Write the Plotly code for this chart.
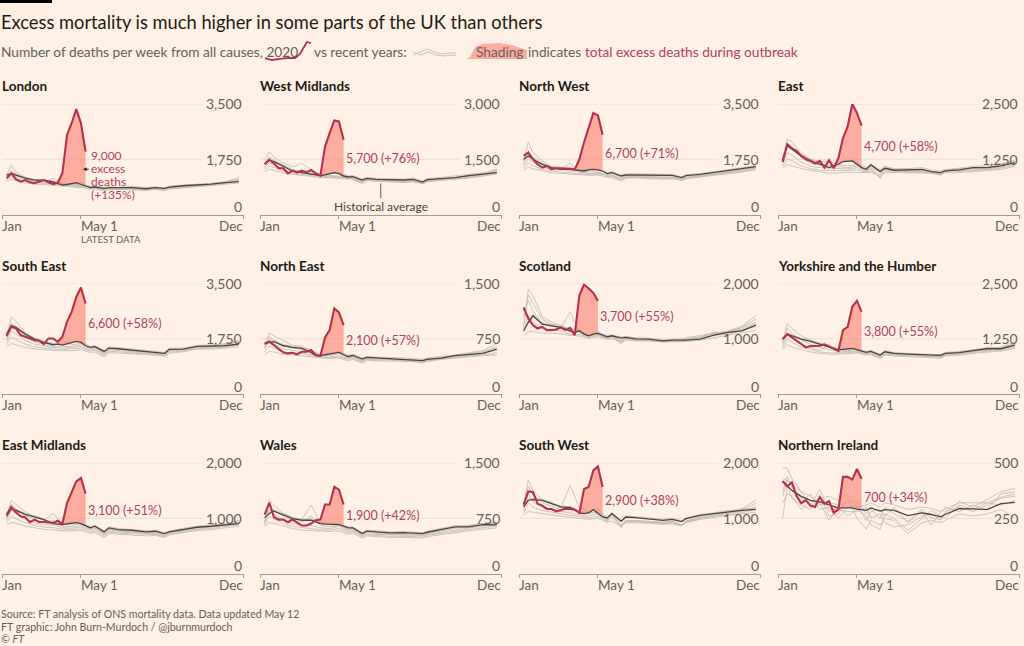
import plotly.graph_objects as go

FONT = "Lato"
BG = "#fff1e5"
RED = "#b9304c"
REDTXT = "#b4405c"
GREY_TXT = "#66605c"

WEEKS_2020 = list(range(1, 19))
AVG_WEEKS = [1,2,3,5,7,9,11,12,13,14,15,16,17,18,19,20,22,23,25,28,31,33,35,36,39,42,45,48,51]
GREY_WEEKS = [1,2,3,5,7,9,11,13,15,17,19,20,22,23,25,28,31,33,35,36,39,42,45,48,51]
X_TICK_WEEKS = [0, 17, 52]
X_TICK_TEXT = ["Jan", "May 1", "Dec"]

LONDON_2020 = [1145,1304,1120,1040,1090,1020,990,1050,1090,1020,965,1007,1304,2520,2890,3340,2890,1990]
LONDON_AVG = [1250,1300,1250,1150,1090,1090,1030,975,930,950,975,1007,950,900,850,870,830,850,850,850,815,850,830,870,910,930,965,1007,1040]
LONDON_G1 = [1250,1570,1350,1180,1100,1050,1000,960,950,900,880,870,800,810,840,830,800,820,800,840,880,910,960,1020,1180]
LONDON_G2 = [1050,1120,1080,1000,960,950,930,900,880,840,820,800,760,790,790,800,770,790,770,810,840,880,900,950,1000]
LONDON_G3 = [1150,1300,1200,1080,1020,1020,1140,1000,910,980,860,840,790,830,820,860,790,830,790,860,890,900,940,990,1090]
LONDON_G4 = [1180,1400,1280,1120,1050,980,980,940,960,920,900,820,770,840,800,810,780,800,760,830,860,920,930,980,1120]
LONDON_G5 = [1100,1200,1130,1050,1000,1000,960,930,900,880,800,850,780,800,810,790,760,810,780,830,850,890,920,1000,1060]
LONDON_G6 = [1200,1350,1270,1170,1110,1090,1060,960,960,1010,880,900,860,880,860,890,850,880,840,900,930,950,990,1040,1120]

WMID_2020 = [1373,1482,1391,1255,1255,1118,1191,1136,1191,1145,1209,1118,1055,1845,2209,2555,2527,2027]
WMID_AVG = [1364,1482,1436,1318,1182,1136,1091,1064,1055,1073,1109,1136,1109,1045,1018,1027,936,982,955,945,936,955,882,945,973,1000,1055,1091,1136]
WMID_G1 = [1450,1710,1560,1400,1290,1390,1220,1080,1060,1020,980,1000,890,950,930,920,900,930,860,930,960,1000,1060,1120,1240]
WMID_G2 = [1150,1240,1200,1130,1090,1060,1040,1010,1000,980,950,960,860,920,900,900,880,910,840,900,930,950,990,1040,1100]
WMID_G3 = [1300,1400,1350,1230,1150,1130,1100,1040,1040,1050,1000,980,920,960,940,930,910,920,870,920,950,990,1030,1080,1180]
WMID_G4 = [1250,1520,1450,1320,1200,1180,1160,1030,1020,1010,960,1000,880,930,920,890,870,890,830,900,960,960,1010,1060,1200]
WMID_G5 = [1200,1320,1280,1180,1110,1090,1060,1000,1010,1030,1020,950,840,940,910,910,890,900,850,890,920,970,1000,1070,1130]
WMID_G6 = [1380,1560,1480,1340,1220,1170,1130,1080,1130,1120,1050,1060,960,1010,980,970,960,990,910,970,1010,1040,1090,1130,1190]

NW_2020 = [1855,1961,1749,1590,1484,1537,1431,1463,1463,1463,1442,1431,1749,2279,2756,3212,3138,2523]
NW_AVG = [1749,1855,1749,1590,1484,1431,1431,1410,1378,1378,1410,1431,1410,1378,1293,1325,1219,1251,1251,1251,1240,1240,1166,1230,1272,1325,1378,1452,1516]
NW_G1 = [1700,2300,1950,1700,1520,1500,1490,1400,1350,1350,1250,1260,1130,1180,1200,1200,1170,1180,1120,1180,1240,1290,1340,1410,1500]
NW_G2 = [1400,1500,1450,1380,1320,1300,1280,1260,1240,1250,1200,1170,1060,1150,1160,1150,1150,1150,1070,1130,1190,1240,1300,1340,1420]
NW_G3 = [1550,1760,1650,1500,1430,1400,1640,1330,1300,1300,1260,1330,1170,1220,1200,1190,1200,1190,1140,1170,1210,1280,1350,1400,1470]
NW_G4 = [1600,2000,1820,1620,1480,1440,1380,1370,1290,1320,1230,1220,1090,1190,1170,1170,1130,1160,1090,1150,1220,1260,1320,1380,1480]
NW_G5 = [1480,1630,1550,1430,1370,1340,1330,1300,1270,1280,1180,1240,1120,1170,1180,1130,1140,1130,1100,1150,1200,1270,1310,1360,1440]
NW_G6 = [1780,1950,1800,1620,1520,1460,1470,1410,1430,1430,1320,1360,1250,1280,1290,1280,1270,1270,1190,1260,1300,1360,1410,1480,1560]

EAST_2020 = [1190,1592,1493,1440,1327,1251,1213,1152,1213,1061,1228,1046,1273,1728,1994,2500,2297,2009]
EAST_AVG = [1236,1554,1478,1327,1213,1137,1061,1099,1137,1198,1213,1213,1137,1061,1023,1122,970,1046,1001,1008,1023,970,948,985,1008,1061,1061,1099,1175]
EAST_G1 = [1300,1700,1650,1400,1250,1200,1200,1130,1100,1130,1010,1060,960,1100,990,1000,990,980,940,1000,1050,1040,1060,1130,1200]
EAST_G2 = [1050,1130,1100,1040,1000,960,930,940,960,950,940,950,870,940,950,950,940,930,900,960,950,970,1000,1020,1090]
EAST_G3 = [1130,1400,1350,1180,1090,1060,1050,1040,1030,1060,970,1040,820,1010,980,990,970,950,920,1010,990,1010,1030,1070,1140]
EAST_G4 = [1200,1580,1500,1290,1160,1120,1120,1080,1060,1100,1000,1020,900,1050,1020,960,960,960,910,980,1010,1040,1030,1100,1170]
EAST_G5 = [1090,1260,1220,1100,1040,1000,1000,990,1000,1010,960,990,850,970,960,970,950,940,890,950,970,990,1010,1050,1110]
EAST_G6 = [1260,1600,1520,1360,1240,1170,1100,1170,1240,1170,1060,1150,1010,1080,1040,1040,1060,1010,980,1020,1040,1090,1100,1140,1230]

SE_2020 = [1834,2129,2076,1866,1813,1760,1707,1686,1581,1760,1760,1655,1813,2287,2603,3078,3373,2867]
SE_AVG = [1897,2161,2108,1897,1739,1634,1560,1581,1549,1581,1634,1665,1634,1528,1476,1497,1349,1455,1433,1391,1349,1318,1286,1412,1423,1507,1507,1528,1581]
SE_G1 = [1800,2450,2300,1950,1750,1650,1560,1700,1560,1600,1470,1500,1300,1440,1450,1380,1340,1300,1270,1410,1430,1500,1520,1600,1700]
SE_G2 = [1500,1600,1560,1480,1430,1400,1380,1370,1370,1400,1320,1330,1180,1310,1300,1270,1250,1230,1200,1290,1340,1420,1420,1450,1500]
SE_G3 = [1650,2000,1900,1700,1580,1530,1470,1450,1480,1500,1400,1420,1260,1390,1380,1340,1300,1270,1230,1360,1390,1460,1480,1530,1600]
SE_G4 = [1720,2250,2100,1820,1650,1580,1500,1500,1510,1550,1440,1460,1280,1420,1410,1360,1320,1290,1250,1380,1410,1480,1500,1570,1650]
SE_G5 = [1580,1800,1730,1580,1500,1460,1420,1410,1430,1450,1360,1380,1220,1350,1340,1300,1280,1250,1210,1330,1360,1440,1450,1490,1550]
SE_G6 = [1930,2200,2150,1930,1780,1670,1600,1590,1660,1670,1510,1530,1380,1490,1470,1420,1390,1350,1320,1450,1460,1540,1550,1570,1640]

NE_2020 = [687,710,664,610,565,551,560,538,574,574,597,529,515,768,868,1162,1107,936]
NE_AVG = [678,701,710,655,633,619,565,520,520,529,542,556,565,533,506,524,475,497,488,484,470,461,452,470,488,520,533,551,610]
NE_G1 = [640,830,790,720,660,650,590,540,530,570,520,530,470,500,490,490,470,470,450,480,500,530,560,590,680]
NE_G2 = [540,580,570,540,530,520,500,490,480,490,450,470,420,460,450,450,440,440,420,440,470,490,500,520,530]
NE_G3 = [610,720,680,610,590,580,540,520,500,520,480,500,440,480,470,470,450,450,440,460,480,510,530,550,600]
NE_G4 = [620,780,730,660,620,610,560,530,520,550,500,510,450,490,480,480,460,460,445,470,490,520,540,570,640]
NE_G5 = [570,650,620,570,560,550,520,500,490,500,470,480,430,470,460,460,445,445,430,450,475,500,515,530,560]
NE_G6 = [690,730,730,670,650,630,580,530,560,580,520,540,490,510,500,500,490,480,470,490,510,540,550,570,640]

SCOT_2020 = [1565,1367,1246,1186,1216,1156,1156,1168,1204,1156,1198,1066,1788,1981,1908,1830,1686]
SCOT_AVG = [1144,1294,1415,1264,1234,1204,1144,1114,1144,1084,1054,1084,1096,1072,1035,1054,1011,1023,999,993,963,975,975,975,993,1066,1114,1144,1246]
SCOT_G1 = [1200,1900,1780,1400,1300,1240,1180,1150,1060,1130,1050,1060,960,1040,1000,980,960,970,960,1020,1060,1090,1140,1230,1420]
SCOT_G2 = [1050,1130,1130,1100,1100,1090,1060,1050,1010,1040,990,1000,960,980,960,960,940,950,950,950,970,1020,1060,1100,1150]
SCOT_G3 = [1400,1700,1500,1280,1250,1180,1490,1110,1040,1080,1000,1040,900,1010,980,970,950,960,950,990,1020,1120,1100,1200,1300]
SCOT_G4 = [1280,1800,1640,1350,1270,1210,1120,1130,1050,1100,1020,1050,930,1020,990,975,955,965,955,1000,1040,1100,1120,1210,1360]
SCOT_G5 = [1120,1420,1300,1180,1170,1140,1080,1080,1020,1060,1010,1010,940,1000,970,965,945,955,945,970,1000,1070,1080,1150,1220]
SCOT_G6 = [1160,1320,1440,1290,1250,1220,1170,1160,1070,1110,1060,1070,1030,1040,1020,1010,980,990,990,1000,1020,1090,1140,1170,1270]

YORK_2020 = [1242,1348,1280,1205,1130,1054,1084,1084,1092,1122,1069,1017,971,1446,1521,1973,2108,1860]
YORK_AVG = [1242,1355,1318,1242,1190,1130,1077,1039,1001,1009,1017,1032,1001,979,941,964,881,956,919,904,889,881,873,919,934,979,1024,1024,1107]
YORK_G1 = [1200,1600,1480,1320,1230,1130,1060,1000,1000,1050,950,980,870,940,920,900,880,880,860,910,950,1000,1040,1060,1180]
YORK_G2 = [1000,1120,1060,1000,950,920,900,900,910,930,880,890,800,880,860,850,840,830,810,860,880,920,950,970,1030]
YORK_G3 = [1090,1400,1280,1120,1040,980,1120,950,960,970,910,930,840,910,890,880,860,860,840,880,910,960,990,1010,1100]
YORK_G4 = [1150,1500,1380,1220,1130,1050,1000,980,980,1010,930,950,850,930,905,890,870,870,850,895,930,980,1010,1040,1140]
YORK_G5 = [1040,1250,1170,1060,1000,950,930,930,930,950,895,910,820,895,875,865,850,845,825,870,895,940,970,990,1060]
YORK_G6 = [1260,1380,1340,1260,1210,1150,1100,1020,1040,1020,960,990,900,980,940,920,910,900,890,940,960,1000,1050,1050,1130]

EMID_2020 = [1066,1204,1108,1035,1017,927,975,933,933,927,915,957,897,1276,1487,1667,1728,1445]
EMID_AVG = [1035,1174,1144,1072,1023,975,903,891,885,897,909,921,903,861,825,855,753,825,795,783,753,765,722,753,801,837,855,885,903]
EMID_G1 = [1040,1320,1250,1120,1030,960,1090,890,880,900,830,850,730,810,780,770,740,750,700,760,800,850,880,900,960]
EMID_G2 = [880,930,910,860,830,800,790,770,770,780,730,740,650,720,710,700,680,690,650,700,740,780,790,820,860]
EMID_G3 = [960,1150,1080,980,920,880,880,830,820,840,790,800,700,770,750,740,720,720,680,730,770,810,840,870,910]
EMID_G4 = [1000,1250,1170,1050,980,920,960,860,850,870,810,825,715,790,765,755,730,735,690,745,785,830,860,885,935]
EMID_G5 = [920,1040,990,920,870,840,830,800,795,810,760,770,675,745,730,720,700,705,665,715,755,795,815,845,885]
EMID_G6 = [1050,1190,1160,1090,1040,990,920,900,930,920,845,870,770,845,815,800,775,780,740,770,820,855,875,905,925]

WALES_2020 = [800,958,768,732,732,696,732,687,651,651,678,723,732,936,936,1175,1139,936]
WALES_AVG = [755,814,845,791,746,723,723,701,678,669,669,669,664,642,619,619,542,574,565,551,556,551,542,560,597,633,633,664,660]
WALES_G1 = [700,1000,920,820,760,730,930,690,660,680,600,620,530,570,560,540,540,540,530,550,600,630,650,680,700]
WALES_G2 = [640,690,680,640,610,590,580,570,570,580,530,550,480,510,500,490,490,490,480,500,530,560,580,600,620]
WALES_G3 = [710,870,800,730,680,650,650,620,610,640,570,590,510,540,530,520,520,520,510,530,560,600,620,640,670]
WALES_G4 = [680,940,860,780,720,690,780,650,635,660,585,605,520,555,545,530,530,530,520,540,580,615,635,660,685]
WALES_G5 = [660,780,740,680,640,620,610,595,590,610,550,570,495,525,515,505,505,505,495,515,545,580,600,620,645]
WALES_G6 = [770,830,860,805,760,735,740,690,680,680,630,635,555,590,580,565,570,565,555,575,610,650,650,680,680]

SW_2020 = [1246,1487,1475,1264,1228,1168,1168,1126,1144,1174,1168,1156,1096,1529,1565,1866,1938,1565]
SW_AVG = [1204,1324,1336,1324,1264,1204,1192,1156,1096,1084,1096,1156,1084,1023,1005,1084,945,1023,1011,993,963,981,939,993,1054,1084,1120,1144,1162]
SW_G1 = [1240,1700,1500,1340,1290,1180,1590,1200,1120,1180,1000,1050,880,960,960,950,930,950,880,950,1030,1080,1120,1170,1330]
SW_G2 = [1050,1120,1110,1080,1060,1040,1020,1000,980,1000,930,950,850,920,920,910,890,900,860,920,980,1020,1050,1080,1110]
SW_G3 = [1130,1450,1300,1200,1160,1120,1100,1060,1040,1090,960,1100,830,960,950,930,910,930,870,940,1000,1050,1090,1120,1210]
SW_G4 = [1200,1580,1420,1280,1220,1150,1220,1130,1080,1130,980,1070,860,960,955,940,920,940,875,945,1010,1060,1100,1150,1270]
SW_G5 = [1090,1280,1200,1140,1110,1080,1060,1030,1010,1040,945,1020,840,940,935,920,900,915,865,930,990,1035,1070,1100,1160]
SW_G6 = [1220,1350,1360,1340,1280,1220,1210,1110,1110,1100,1020,1100,960,1040,1030,1010,980,1000,955,1010,1070,1100,1140,1160,1190]

NI_2020 = [417,395,413,349,319,331,307,301,346,316,327,274,289,437,437,425,473,428]
NI_AVG = [417,395,376,349,331,324,309,301,297,297,297,297,291,289,286,297,282,289,286,262,274,267,256,267,294,292,289,316,322]
NI_G1 = [480,475,430,370,350,310,320,310,320,330,270,290,250,300,270,235,290,250,245,270,325,300,335,370,385]
NI_G2 = [250,400,340,310,290,350,260,270,340,250,200,240,220,250,240,180,230,240,230,240,270,260,270,290,250]
NI_G3 = [370,440,390,340,310,380,280,290,280,280,300,250,270,230,210,220,260,270,240,280,300,280,310,340,350]
NI_G4 = [350,420,410,320,360,290,300,250,300,310,240,280,290,260,300,230,280,220,275,300,280,310,290,360,370]
NI_G5 = [320,360,350,290,330,320,240,300,260,290,260,220,200,270,250,195,250,285,260,250,310,290,320,310,330]
NI_G6 = [430,420,400,370,300,340,350,330,360,300,310,320,300,320,310,290,300,295,280,290,320,320,320,345,360]

# name, y-axis top, label, label y, 2020, avg, greys
PANELS = [
    ("London", 3500, "9,000<br>excess<br>deaths<br>(+135%)", 1240, LONDON_2020, LONDON_AVG, [LONDON_G1, LONDON_G2, LONDON_G3, LONDON_G4, LONDON_G5, LONDON_G6]),
    ("West Midlands", 3000, "5,700 (+76%)", 1527, WMID_2020, WMID_AVG, [WMID_G1, WMID_G2, WMID_G3, WMID_G4, WMID_G5, WMID_G6]),
    ("North West", 3500, "6,700 (+71%)", 1941, NW_2020, NW_AVG, [NW_G1, NW_G2, NW_G3, NW_G4, NW_G5, NW_G6]),
    ("East", 2500, "4,700 (+58%)", 1545, EAST_2020, EAST_AVG, [EAST_G1, EAST_G2, EAST_G3, EAST_G4, EAST_G5, EAST_G6]),
    ("South East", 3500, "6,600 (+58%)", 2227, SE_2020, SE_AVG, [SE_G1, SE_G2, SE_G3, SE_G4, SE_G5, SE_G6]),
    ("North East", 1500, "2,100 (+57%)", 723, NE_2020, NE_AVG, [NE_G1, NE_G2, NE_G3, NE_G4, NE_G5, NE_G6]),
    ("Scotland", 2000, "3,700 (+55%)", 1400, SCOT_2020, SCOT_AVG, [SCOT_G1, SCOT_G2, SCOT_G3, SCOT_G4, SCOT_G5, SCOT_G6]),
    ("Yorkshire and the Humber", 2500, "3,800 (+55%)", 1409, YORK_2020, YORK_AVG, [YORK_G1, YORK_G2, YORK_G3, YORK_G4, YORK_G5, YORK_G6]),
    ("East Midlands", 2000, "3,100 (+51%)", 1145, EMID_2020, EMID_AVG, [EMID_G1, EMID_G2, EMID_G3, EMID_G4, EMID_G5, EMID_G6]),
    ("Wales", 1500, "1,900 (+42%)", 791, WALES_2020, WALES_AVG, [WALES_G1, WALES_G2, WALES_G3, WALES_G4, WALES_G5, WALES_G6]),
    ("South West", 2000, "2,900 (+38%)", 1327, SW_2020, SW_AVG, [SW_G1, SW_G2, SW_G3, SW_G4, SW_G5, SW_G6]),
    ("Northern Ireland", 500, "700 (+34%)", 345, NI_2020, NI_AVG, [NI_G1, NI_G2, NI_G3, NI_G4, NI_G5, NI_G6]),
]

W, H = 1024, 646
COL_L = [2, 260, 519, 778]
COL_W = 241.5
ROW_TOP = [104, 283.5, 463]
ROW_H = 110.5

def px(x): return x / W
def py(y): return 1 - y / H

fig = go.Figure()
annots, shapes, layout = [], [], {}

def text(x, y, s, size, color=GREY_TXT, anchor="left", family=FONT):
    annots.append(dict(xref="paper", yref="paper", x=px(x), y=py(y), text=s, showarrow=False,
                       xanchor=anchor, yanchor="middle", align="left",
                       font=dict(family=family, size=size, color=color), borderpad=0, borderwidth=0))

for i, (name, top, label, label_y, y2020, avg, greys) in enumerate(PANELS):
    col, row = i % 4, i // 4
    L, T = COL_L[col], ROW_TOP[row]
    n = "" if i == 0 else str(i + 1)
    xa, ya = f"x{n}", f"y{n}"
    layout[f"xaxis{n}"] = dict(domain=[px(L), px(L + COL_W)], range=[0, 52], anchor=ya, showgrid=False,
                               zeroline=False, showline=True, linecolor="#a39b94", linewidth=1.2,
                               tickmode="array", tickvals=X_TICK_WEEKS, ticktext=X_TICK_TEXT,
                               ticks="outside", ticklen=3, tickcolor="#a39b94", tickwidth=1,
                               showticklabels=False, fixedrange=True)
    layout[f"yaxis{n}"] = dict(domain=[py(T + ROW_H), py(T)], range=[0, top], anchor=xa, showgrid=False,
                               zeroline=False, showline=False, showticklabels=False, ticks="",
                               tickvals=[0, top / 2, top], fixedrange=True)
    weeks = WEEKS_2020[:len(y2020)]
    last = weeks[-1]
    for g in greys:
        fig.add_trace(go.Scatter(x=GREY_WEEKS, y=g, mode="lines", xaxis=xa, yaxis=ya, hoverinfo="skip",
                                 line=dict(color="#c6bfb8", width=0.9)))
    # shaded excess between the average and 2020
    sx = [w for w in AVG_WEEKS if 12 <= w <= last]
    sy = [v for w, v in zip(AVG_WEEKS, avg) if 12 <= w <= last]
    fig.add_trace(go.Scatter(x=sx, y=sy, mode="lines", xaxis=xa, yaxis=ya, hoverinfo="skip",
                             line=dict(width=0, color="rgba(0,0,0,0)")))
    fig.add_trace(go.Scatter(x=[w for w in weeks if w >= 12], y=[v for w, v in zip(weeks, y2020) if w >= 12],
                             mode="lines", xaxis=xa, yaxis=ya, hoverinfo="skip", fill="tonexty",
                             fillcolor="rgba(250,128,114,0.6)", line=dict(width=0, color="rgba(0,0,0,0)")))
    fig.add_trace(go.Scatter(x=AVG_WEEKS, y=avg, mode="lines", xaxis=xa, yaxis=ya, hoverinfo="skip",
                             line=dict(color="#4a4542", width=1.3)))
    fig.add_trace(go.Scatter(x=weeks, y=y2020, mode="lines", xaxis=xa, yaxis=ya, hoverinfo="skip",
                             line=dict(color=RED, width=2.1)))
    # gridlines which stop short of the value labels
    for v in (top, top / 2):
        lab = f"{v:,.0f}"
        frac = 1 - (len(lab) * 7.6 + 4) / COL_W
        shapes.append(dict(type="line", xref=f"{xa} domain", yref=ya, x0=0, x1=frac, y0=v, y1=v,
                           line=dict(color="#eadfd4", width=1), layer="below"))
    # panel title and value labels
    text(L - 0.5, T - 18, f"<b>{name}</b>", 13.5, "#1d1a18")
    for v in (top, top / 2, 0):
        shift = 8 if v == 0 else 0
        annots.append(dict(xref=f"{xa} domain", yref=ya, x=1, y=v, yshift=shift, text=f"{v:,.0f}", showarrow=False,
                           xanchor="right", yanchor="middle", font=dict(family=FONT, size=14, color=GREY_TXT)))
    # x labels
    for wk, lab, anc in zip(X_TICK_WEEKS, X_TICK_TEXT, ("left", "left", "right")):
        annots.append(dict(xref=xa, yref=f"{ya} domain", x=wk, y=0, yshift=-11, text=lab, showarrow=False,
                           xanchor=anc, yanchor="middle", xshift=-2 if anc == "left" else 1,
                           font=dict(family=FONT, size=13.5, color=GREY_TXT)))
    # red excess label, one annotation per line so the leading stays tight
    lines = label.split("<br>")
    for k, part in enumerate(lines):
        annots.append(dict(xref=xa, yref=ya, x=last, y=label_y, xshift=3 if len(lines) > 1 else 0,
                           yshift=((len(lines) - 1) / 2 - k) * 13, text=part, showarrow=False, align="left",
                           xanchor="left", yanchor="middle", font=dict(family=FONT, size=12, color=REDTXT) if len(lines) > 1
                           else dict(family=FONT, size=12.5, color=REDTXT)))

# arrow in the London panel
annots.append(dict(xref="x", yref="y", x=17.4, y=1432, ax=19.0, ay=1432, axref="x", ayref="y", text="", showarrow=True,
                   arrowhead=2, arrowsize=0.8, arrowwidth=1, arrowcolor="#33302e"))
text(81, 239, "LATEST DATA", 9.6, GREY_TXT)
# historical average note in the West Midlands panel
shapes.append(dict(type="line", xref="x2", yref="y2", x0=26, x1=26, y0=436, y1=845, line=dict(color="#66605c", width=1)))
annots.append(dict(xref="x2", yref="y2", x=26, y=225, text="Historical average", showarrow=False, xanchor="center",
                   yanchor="middle", font=dict(family=FONT, size=12, color="#4a4542")))

# header and footer
shapes.append(dict(type="rect", xref="paper", yref="paper", x0=0, x1=px(52), y0=py(3), y1=1,
                   fillcolor="#000000", line=dict(width=0)))
text(1, 22, "Excess mortality is much higher in some parts of the UK than others", 18.3, "#1d1a18")

def path(points):
    return "M " + " L ".join(f"{px(a):.4f},{py(b):.4f}" for a, b in points)

shapes.append(dict(type="path", xref="paper", yref="paper", layer="below", line=dict(width=0), fillcolor="#fcada0",
                   path=path([(466, 59), (470, 57), (475, 47), (482, 44), (500, 43), (512, 45), (527, 50), (527, 59)]) + " Z"))
shapes.append(dict(type="path", xref="paper", yref="paper", line=dict(color=RED, width=1.8),
                   path=path([(265, 58), (272, 60), (280, 59), (288, 58), (295, 58), (300, 54), (304, 47), (307, 42), (311, 43)])))
shapes.append(dict(type="path", xref="paper", yref="paper", line=dict(color="#c6bfb8", width=0.9),
                   path=path([(413, 55), (420, 52), (427, 49), (434, 52), (442, 54), (450, 53), (456, 53)])))
shapes.append(dict(type="path", xref="paper", yref="paper", line=dict(color="#c6bfb8", width=0.9),
                   path=path([(413, 52), (421, 55), (428, 52), (436, 55), (444, 56), (456, 55)])))
text(1, 51, "Number of deaths per week from all causes, 2020", 13.7, GREY_TXT)
text(314, 51, "vs recent years:", 13.7, GREY_TXT)
text(476, 51, "Shading", 13.7, GREY_TXT)
text(528, 51, "indicates", 13.7, GREY_TXT)
text(585, 51, "total excess deaths during outbreak", 13.7, REDTXT)
text(1, 614, "Source: FT analysis of ONS mortality data. Data updated May 12", 10.6, GREY_TXT)
text(1, 627, "FT graphic: John Burn-Murdoch / @jburnmurdoch", 10.6, GREY_TXT)
text(1, 639, "© <i>FT</i>", 10.6, GREY_TXT)

fig.update_layout(width=W, height=H, autosize=False, margin=dict(l=0, r=0, t=0, b=0), showlegend=False,
                  paper_bgcolor=BG, plot_bgcolor="rgba(0,0,0,0)", annotations=annots, shapes=shapes,
                  font=dict(family=FONT), **layout)
fig.write_html("out.html", config={"displayModeBar": False},
               post_script="document.body.style.margin='0';document.body.style.background='#fff1e5';")
